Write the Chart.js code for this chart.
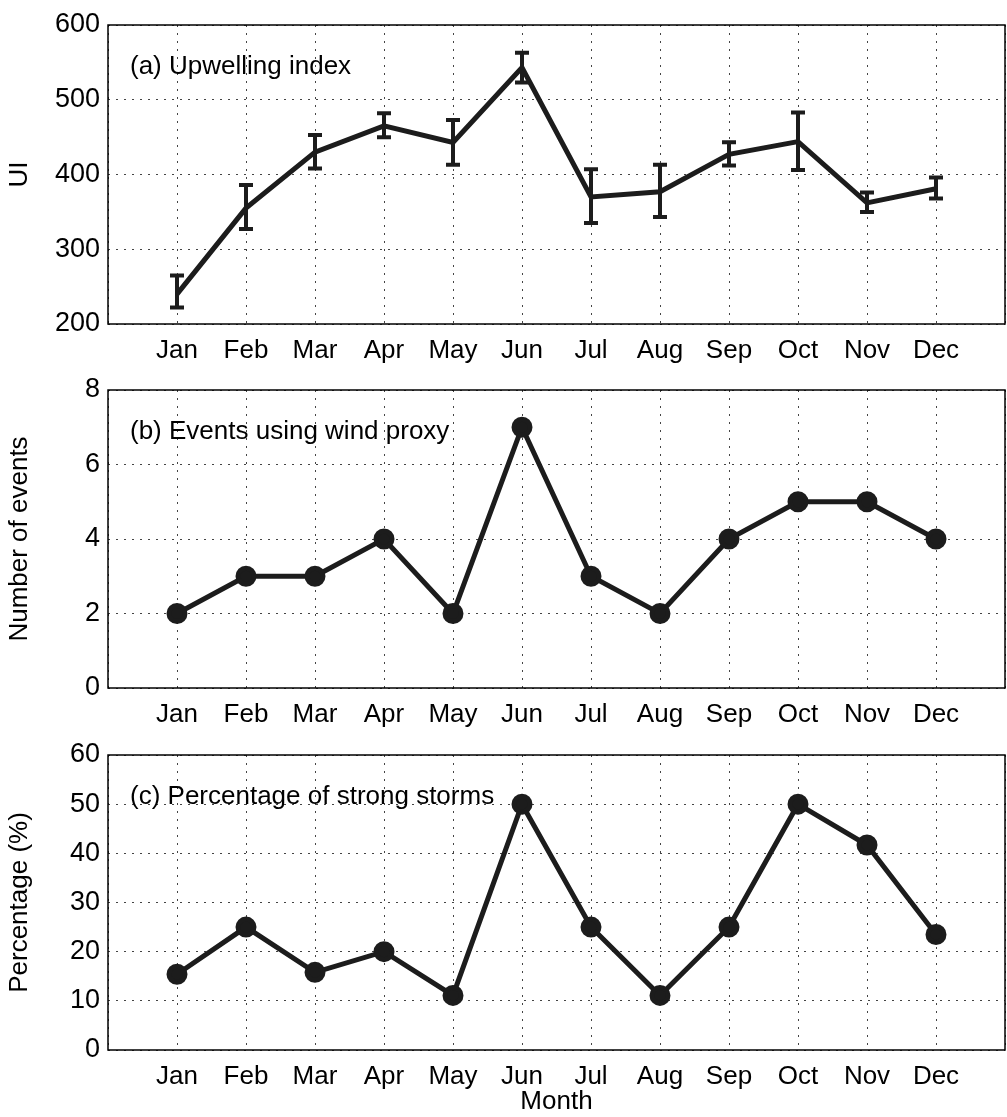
<!DOCTYPE html>
<html><head><meta charset="utf-8">
<script src="https://cdn.jsdelivr.net/npm/chart.js@4/dist/chart.umd.min.js"></script>
<style>body{margin:0;background:#fff;width:1007px;height:1117px;position:relative;overflow:hidden}
.p{position:absolute;left:0;width:1007px}</style></head><body>
<div class="p" style="top:0;height:370px"><canvas id="ca"></canvas></div>
<div class="p" style="top:365px;height:365px"><canvas id="cb"></canvas></div>
<div class="p" style="top:730px;height:387px"><canvas id="cc"></canvas></div>
<script>
const months=["Jan","Feb","Mar","Apr","May","Jun","Jul","Aug","Sep","Oct","Nov","Dec"];
const upwelling=[240,355,430,465,443,543,370,377,427,444,362,381];
const upLow=[222,327,408,450,413,523,335,343,412,406,350,368];
const upHigh=[265,386,453,482,473,563,407,413,443,483,376,396];
const events=[2,3,3,4,2,7,3,2,4,5,5,4];
const strongPct=[15.4,25,15.8,20,11.1,50,25,11.1,25,50,41.7,23.5];
const FONT="'Liberation Sans', Arial, sans-serif";
Chart.defaults.font.family=FONT;Chart.defaults.color="#000";
function pts(v){return v.map((y,i)=>({x:i+1,y}));}
const deco={id:'deco',afterDatasetsDraw(c,a,o){const ctx=c.ctx,ca=c.chartArea;ctx.save();
 if(o.low){const xs=c.scales.x,ys=c.scales.y;ctx.strokeStyle='#1c1c1c';ctx.lineWidth=4;
  o.low.forEach((l,i)=>{const x=xs.getPixelForValue(i+1),y1=ys.getPixelForValue(l),y2=ys.getPixelForValue(o.high[i]);
   ctx.beginPath();ctx.moveTo(x,y1);ctx.lineTo(x,y2);ctx.moveTo(x-7,y1);ctx.lineTo(x+7,y1);ctx.moveTo(x-7,y2);ctx.lineTo(x+7,y2);ctx.stroke();});}
 ctx.strokeStyle='#000';ctx.lineWidth=1.5;ctx.strokeRect(ca.left,ca.top,ca.right-ca.left,ca.bottom-ca.top);
 ctx.fillStyle='#000';ctx.font='26px '+FONT;ctx.textBaseline='middle';ctx.fillText(o.text,ca.left+22,ca.top+42);ctx.restore();}};
function make(id,data,ymin,ymax,step,ytitle,text,xh,extra){
 const opts={responsive:true,maintainAspectRatio:false,animation:false,
  layout:{autoPadding:false,padding:{top:25,right:2,left:0,bottom:0}},
  plugins:{legend:{display:false},tooltip:{enabled:false},deco:Object.assign({text},extra||{})},
  scales:{x:{type:'linear',min:0,max:13,afterBuildTicks:s=>{s.ticks=[];for(let i=0;i<=13;i++)s.ticks.push({value:i});},
    ticks:{font:{size:26},padding:11,callback:v=>months[v-1]||''},
    grid:{color:'#444',lineWidth:1,drawTicks:false},border:{display:false,dash:[2,6]},
    afterFit:s=>{s.height=xh;s.paddingLeft=0;s.paddingRight=0;},title:{display:id==='cc',text:'Month',font:{size:26},padding:0}},
   y:{min:ymin,max:ymax,afterBuildTicks:s=>{s.ticks=[];for(let v=ymin;v<=ymax;v+=step)s.ticks.push({value:v});},
    ticks:{font:{size:27},padding:8},grid:{color:'#444',lineWidth:1,drawTicks:false},border:{display:false,dash:[2,6]},
    afterFit:s=>{s.width=108;},title:{display:true,text:ytitle,font:{size:26},padding:4}}}};
 new Chart(document.getElementById(id),{type:'line',data:{datasets:[{data:pts(data),borderColor:'#1c1c1c',borderWidth:5,
  pointRadius:id==='ca'?0:8,pointBackgroundColor:'#1c1c1c',pointBorderColor:'#1c1c1c',tension:0}]},options:opts,plugins:[deco]});}
make('ca',upwelling,200,600,100,'UI','(a) Upwelling index',46,{low:upLow,high:upHigh});
make('cb',events,0,8,2,'Number of events','(b) Events using wind proxy',42);
make('cc',strongPct,0,60,10,'Percentage (%)','(c) Percentage of strong storms',67);
</script></body></html>
